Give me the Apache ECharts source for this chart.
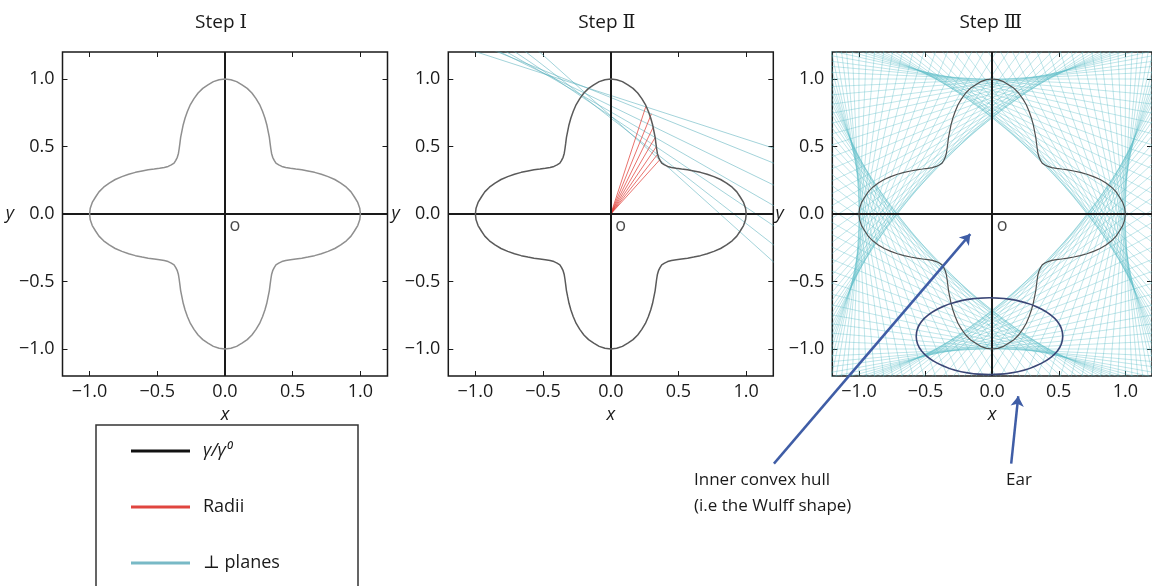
<!DOCTYPE html>
<html><head><meta charset="utf-8">
<script src="https://cdn.jsdelivr.net/npm/echarts@6/dist/echarts.min.js"></script>
<style>html,body{margin:0;padding:0;background:#fff}#c{width:1152px;height:586px}</style>
</head><body><div id="c"></div>
<script>
// ---------------- data ----------------
const panelTitles = ['Step Ⅰ', 'Step Ⅱ', 'Step Ⅲ'];
const tickValues = [-1.0, -0.5, 0.0, 0.5, 1.0];
// gamma/gamma0 polar curve, one octant (4-fold symmetric, mirrored about 45°)
const curveAnglesDeg = [0, 2.5, 5, 7.5, 10, 12.5, 15, 17.5, 20, 22.5, 25, 27.5, 30, 32.5, 35, 37.5, 40, 42.5, 45];
const curveRadii     = [1.000, 0.996, 0.984, 0.964, 0.945, 0.918, 0.885, 0.850, 0.810, 0.770, 0.730, 0.690, 0.655, 0.620, 0.590, 0.565, 0.548, 0.538, 0.532];
// Step II: radii drawn (angle, length)
const radiiAnglesDeg = [48, 52, 56, 60, 64, 68, 72];
const radiiLengths   = [0.540, 0.560, 0.600, 0.655, 0.720, 0.800, 0.835];
// Step III: perpendicular planes drawn every N degrees of the curve table
const planeStepDeg = 2.5;
const legendNames = ['γ/γ⁰', 'Radii', '⊥ planes'];
const annotationTexts = ['Inner convex hull', '(i.e the Wulff shape)', 'Ear'];

// ---------------- layout / style ----------------
const FONT = "'Open Sans','Noto Sans','DejaVu Serif',sans-serif";
const INK = '#1a1a1a';
const panelLeft = [62.5, 448.3, 832.3];
const PW = 325, PH = 324, PT = 52;
const curveColors = ['#8f8f8f', '#5a5a5a', '#505050'];
const PLANE_COLOR = '#5cbcc9';
const RADII_COLOR = '#e0362f';
const ARROW_COLOR = '#3f5da6';

function radiusAt(deg) {
  let b = ((deg % 90) + 90) % 90;
  if (b > 45) b = 90 - b;
  const i = curveAnglesDeg.indexOf(Math.round(b * 10) / 10);
  return curveRadii[i];
}
function fullCurve() {
  const pts = [];
  const n = curveAnglesDeg.length;
  for (let q = 0; q < 8; q++) {
    for (let j = 0; j < n - 1; j++) {
      const idx = (q % 2 === 0) ? j : (n - 1 - j);
      const ang = q * 45 + ((q % 2 === 0) ? curveAnglesDeg[idx] : (45 - curveAnglesDeg[idx]));
      const r = curveRadii[idx];
      const t = ang * Math.PI / 180;
      pts.push([r * Math.cos(t), r * Math.sin(t)]);
    }
  }
  pts.push(pts[0]);
  return pts;
}
function planeLine(deg, r) {
  const t = deg * Math.PI / 180;
  const px = r * Math.cos(t), py = r * Math.sin(t);
  const dx = -Math.sin(t), dy = Math.cos(t), L = 4;
  return [[px - L * dx, py - L * dy], [px + L * dx, py + L * dy]];
}
const tickFmt = v => (v < 0 ? '−' : '') + Math.abs(v).toFixed(1);

const grids = [], xAxes = [], yAxes = [], series = [];
for (let k = 0; k < 3; k++) {
  grids.push({left: panelLeft[k], top: PT, width: PW, height: PH, show: true,
    borderColor: INK, borderWidth: 1.5, backgroundColor: 'transparent', containLabel: false});
  const common = {gridIndex: k, type: 'value', min: -1.2, max: 1.2,
    axisLine: {show: false, onZero: false}, splitLine: {show: false},
    axisTick: {show: true, inside: true, length: 5, customValues: tickValues, lineStyle: {color: INK, width: 1}}};
  xAxes.push(Object.assign({}, common, {position: 'bottom',
    axisLabel: {customValues: tickValues, formatter: tickFmt, color: INK, fontSize: 18, fontFamily: FONT, margin: 7},
    name: 'x', nameLocation: 'middle', nameGap: 20,
    nameTextStyle: {fontStyle: 'italic', fontSize: 18, color: INK, fontFamily: FONT}}));
  xAxes.push(Object.assign({}, common, {position: 'top', axisLabel: {show: false}}));
  yAxes.push(Object.assign({}, common, {position: 'left',
    axisLabel: {customValues: tickValues, formatter: tickFmt, color: INK, fontSize: 18, fontFamily: FONT, margin: 8},
    name: 'y', nameLocation: 'middle', nameGap: 41, nameRotate: 0,
    nameTextStyle: {fontStyle: 'italic', fontSize: 18, color: INK, fontFamily: FONT}}));
  yAxes.push(Object.assign({}, common, {position: 'right', axisLabel: {show: false}}));

  series.push({type: 'line', name: legendNames[0], xAxisIndex: 2 * k, yAxisIndex: 2 * k,
    data: fullCurve(), symbol: 'none', showSymbol: false, silent: true, z: 5,
    lineStyle: {color: curveColors[k], width: k === 2 ? 1.2 : 1.5},
    markLine: {silent: true, symbol: ['none', 'none'], label: {show: false}, animation: false,
      lineStyle: {color: INK, width: 2, type: 'solid'}, data: [{xAxis: 0}, {yAxis: 0}]}});
  series.push({type: 'scatter', xAxisIndex: 2 * k, yAxisIndex: 2 * k, data: [[0, 0]], symbolSize: 0.1,
    itemStyle: {color: 'rgba(0,0,0,0)'}, silent: true, z: 6,
    label: {show: true, formatter: 'o', position: [10, 12], align: 'center', verticalAlign: 'middle',
      fontSize: 18, color: INK, fontFamily: FONT}});
}
// Step II radii and their planes
radiiAnglesDeg.forEach((a, i) => {
  const r = radiiLengths[i], t = a * Math.PI / 180;
  series.push({type: 'line', name: legendNames[1], xAxisIndex: 2, yAxisIndex: 2, symbol: 'none', silent: true, z: 4,
    data: [[0, 0], [r * Math.cos(t), r * Math.sin(t)]], lineStyle: {color: RADII_COLOR, width: 1, opacity: 0.7}});
  series.push({type: 'line', name: legendNames[2], xAxisIndex: 2, yAxisIndex: 2, symbol: 'none', silent: true, z: 3,
    data: planeLine(a, r), lineStyle: {color: '#58aebb', width: 1, opacity: 0.55}});
});
// Step III planes
for (let a = 0; a < 360; a += planeStepDeg) {
  series.push({type: 'line', name: legendNames[2], xAxisIndex: 4, yAxisIndex: 4, symbol: 'none', silent: true, z: 3,
    data: planeLine(a, radiusAt(a)), lineStyle: {color: PLANE_COLOR, width: 1, opacity: 0.38}});
}
// annotation arrows (data coords of Step III)
series.push({type: 'lines', coordinateSystem: 'cartesian2d', xAxisIndex: 4, yAxisIndex: 4, clip: false, silent: true, z: 10,
  symbol: ['none', 'arrow'], symbolSize: 10, lineStyle: {color: ARROW_COLOR, width: 2.5, opacity: 1},
  data: [{coords: [[-1.638, -1.849], [-0.164, -0.149]]}, {coords: [[0.143, -1.849], [0.196, -1.35]]}]});

const chart = echarts.init(document.getElementById('c'), null, {renderer: 'canvas'});
chart.setOption({
  animation: false,
  backgroundColor: '#fff',
  grid: grids, xAxis: xAxes, yAxis: yAxes, series: series,
  legend: {orient: 'vertical', left: 126, top: 436, itemWidth: 59, itemHeight: 3, itemGap: 36, icon: 'rect',
    selectedMode: false,
    textStyle: {fontSize: 18, color: INK, fontFamily: FONT, lineHeight: 20, padding: [0, 0, 0, 8]},
    data: [{name: legendNames[0], itemStyle: {color: '#111'}, textStyle: {fontStyle: 'italic'}},
           {name: legendNames[1], itemStyle: {color: '#e0453f'}},
           {name: legendNames[2], itemStyle: {color: '#78b9c6'}}]}
});

// graphics: titles, legend frame, ellipse, annotation texts
const c = chart.convertToPixel({xAxisIndex: 4, yAxisIndex: 4}, [-0.02, -0.905]);
const e = chart.convertToPixel({xAxisIndex: 4, yAxisIndex: 4}, [-0.02 + 0.55, -0.905 + 0.285]);
const gfx = [];
panelTitles.forEach((t, k) => {
  gfx.push({type: 'text', x: panelLeft[k] + PW / 2 - 4, y: 23, z: 20,
    style: {text: t, font: '19px ' + FONT, fill: INK, textAlign: 'center', textVerticalAlign: 'middle'}});
});
gfx.push({type: 'rect', shape: {x: 96, y: 425, width: 262, height: 200}, z: 1,
  style: {fill: 'none', stroke: '#333', lineWidth: 1.5}});
gfx.push({type: 'ellipse', shape: {cx: c[0], cy: c[1], rx: Math.abs(e[0] - c[0]), ry: Math.abs(e[1] - c[1])}, z: 20,
  style: {fill: 'none', stroke: '#3a4676', lineWidth: 1.6}});
gfx.push({type: 'text', x: 694, y: 480, z: 20, style: {text: annotationTexts[0], font: '17px ' + FONT, fill: INK, textVerticalAlign: 'middle'}});
gfx.push({type: 'text', x: 694, y: 506, z: 20, style: {text: annotationTexts[1], font: '17px ' + FONT, fill: INK, textVerticalAlign: 'middle'}});
gfx.push({type: 'text', x: 1006, y: 480, z: 20, style: {text: annotationTexts[2], font: '17px ' + FONT, fill: INK, textVerticalAlign: 'middle'}});
chart.setOption({graphic: {elements: gfx}});
</script></body></html>
